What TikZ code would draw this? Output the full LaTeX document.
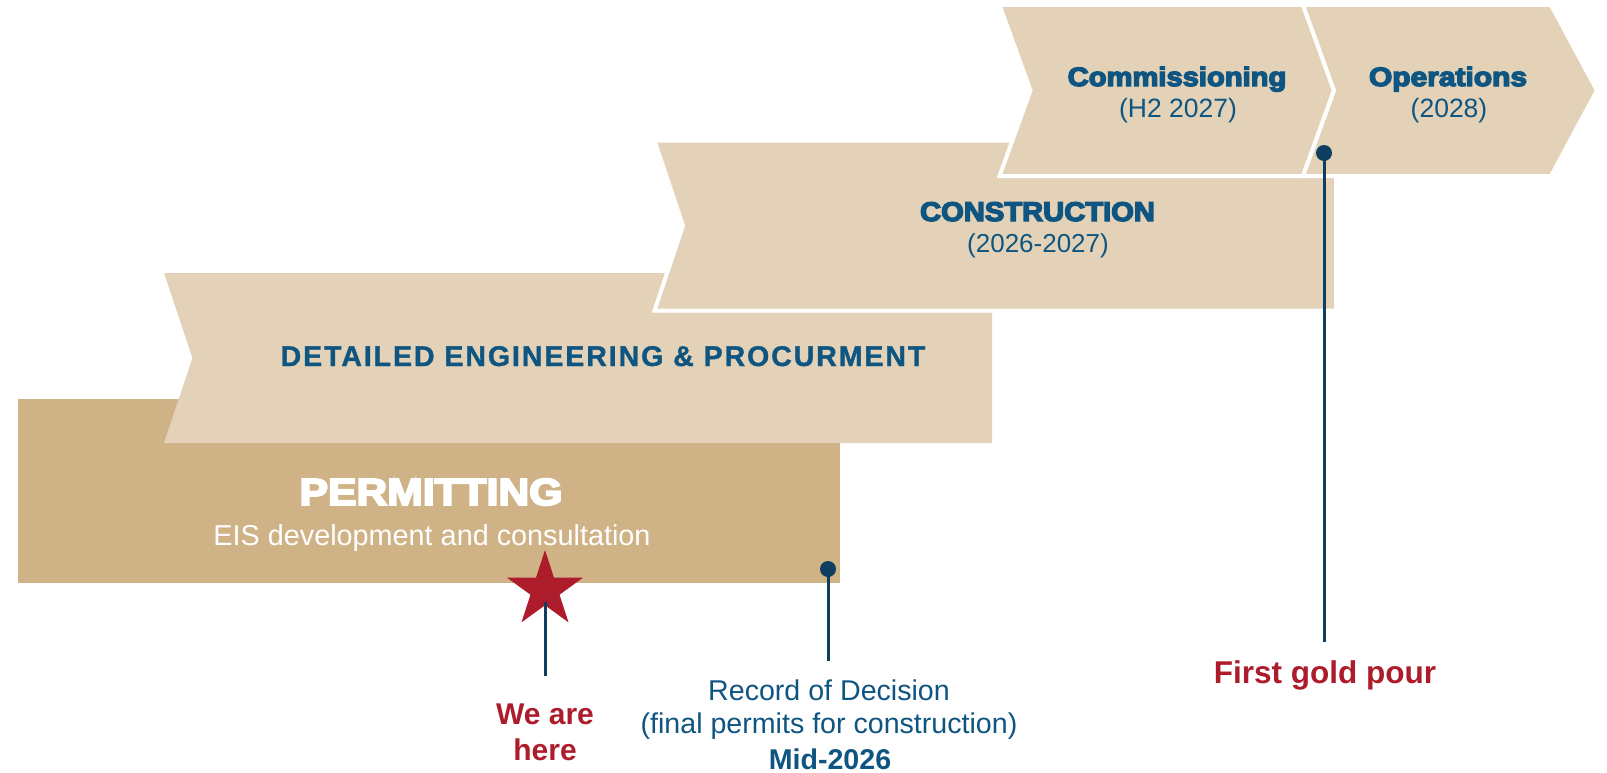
\documentclass[tikz,border=0pt]{standalone}
\usepackage{fontspec}
\usepackage{graphicx}
\setmainfont{Liberation Sans}
\newfontfamily\heavyfont[FakeBold=5]{Liberation Sans}
\newfontfamily\trackfont[LetterSpace=6.8,FakeBold=1.2]{Liberation Sans}
\usetikzlibrary{shapes.geometric}
\definecolor{lighttan}{HTML}{E3D2B7}
\definecolor{darktan}{HTML}{CFB387}
\definecolor{txtblue}{HTML}{0F5581}
\definecolor{navy}{HTML}{0E3F60}
\definecolor{starred}{HTML}{AD1C2A}
\newcommand\stretchtxt[2]{\scalebox{#1}[1]{#2}}
\begin{document}
\begin{tikzpicture}[x=1bp,y=-1bp,
  outlined/.style={fill=lighttan, draw=white, line width=4bp, line join=miter},
  dot/.style={circle, fill=navy, minimum size=16bp, inner sep=0pt},
  stem/.style={draw=navy, line width=3bp},
  lbl/.style={anchor=base, inner sep=0pt, text=txtblue},
  heavytxt/.style={lbl, font=\heavyfont\bfseries\fontsize{#1bp}{#1bp}\selectfont},
  plaintxt/.style={lbl, font=\fontsize{#1bp}{#1bp}\selectfont},
  boldtxt/.style={lbl, font=\bfseries\fontsize{#1bp}{#1bp}\selectfont}]
\useasboundingbox (0,0) rectangle (1607,773);

% phases
\fill[darktan] (18,399) rectangle (840,583);
\fill[lighttan] (164,273) -- (992,273) -- (992,443) -- (164,443) -- (192.5,358) -- cycle;
\path[outlined] (654.5,140.7) -- (1336,140.7) -- (1336,310.5) -- (654.5,310.5) -- (683,225.6) -- cycle;
\path[outlined] (999.5,5) -- (1303,5) -- (1334,90.5) -- (1303,176) -- (999.5,176) -- (1030.5,90.5) -- cycle;
\path[outlined] (1303,5) -- (1551,5) -- (1597,90.5) -- (1551,176) -- (1303,176) -- (1334,90.5) -- cycle;

% texts in phases
\node[heavytxt=26.5] (comm) at (1177,86) {\stretchtxt{1.10}{Commissioning}};
\node[plaintxt=26.5] (commy) at (1178,117) {(H2 2027)};
\node[heavytxt=26.5] (oper) at (1448,86) {\stretchtxt{1.13}{Operations}};
\node[plaintxt=26.5] (opery) at (1449,117) {(2028)};
\node[heavytxt=27] (cons) at (1037.5,221) {\stretchtxt{1.08}{CONSTRUCTION}};
\node[plaintxt=26] (consy) at (1038,252) {(2026-2027)};
\node[lbl, font=\trackfont\bfseries\fontsize{28.5bp}{28.5bp}\selectfont] (deteng) at (603,366) {DETAILED ENGINEERING \& PROCURMENT};
\node[heavytxt=37.7, text=white] (perm) at (431,505) {\stretchtxt{1.13}{PERMITTING}};
\node[plaintxt=28.8, text=white] (eis) at (432,545) {EIS development and consultation};

% milestones
\coordinate (e0) at (545,676);
\coordinate (e1) at (828,661);
\coordinate (e2) at (1324,642);
\node[dot] (d1) at (828,569) {};
\node[dot] (d2) at (1324,153) {};
\draw[stem] (d1.center) -- (e1);
\draw[stem] (d2.center) -- (e2);
\node[star, star points=5, star point ratio=2.618, fill=starred, minimum size=80bp, inner sep=0pt] (star) at (545,590) {};
\draw[stem] (star.center) ++(0,12) -- (e0);

\node[boldtxt=30, text=starred] (we1) at (545,724) {We are};
\node[boldtxt=30, text=starred] (we2) at (545,760) {here};
\node[plaintxt=28.6] (rod1) at (829,700) {Record of Decision};
\node[plaintxt=28.6] (rod2) at (829,733) {(final permits for construction)};
\node[boldtxt=28.6] (rod3) at (830,769) {Mid-2026};
\node[boldtxt=31.5, text=starred] (gold) at (1325,683) {First gold pour};
\end{tikzpicture}
\end{document}
